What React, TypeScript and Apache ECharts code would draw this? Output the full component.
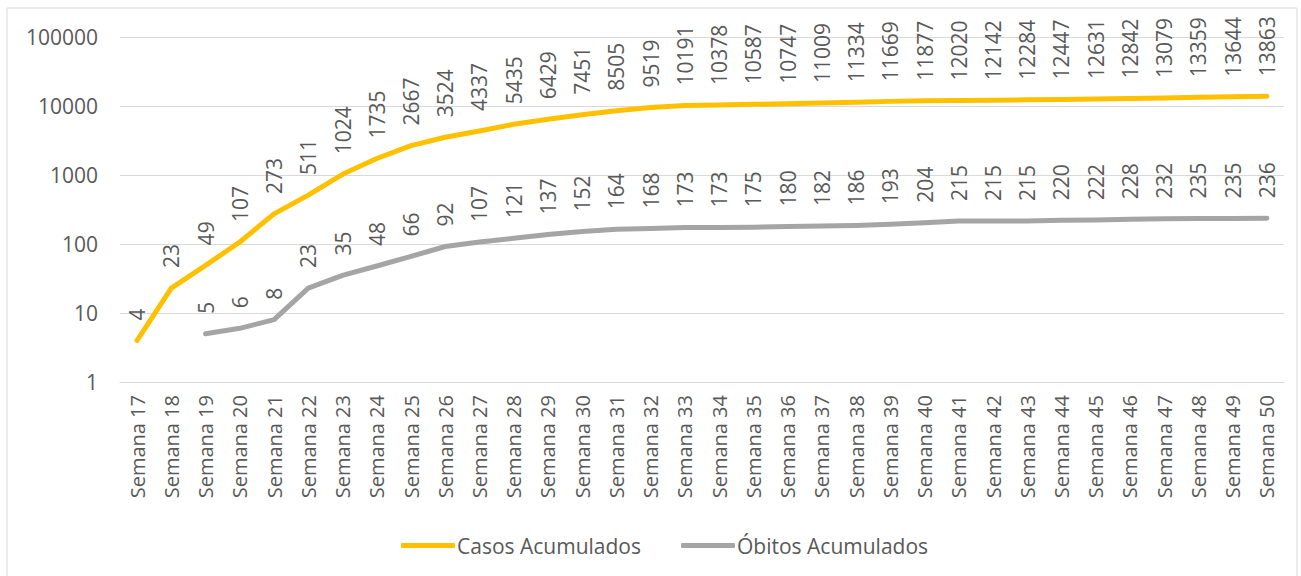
import React, { useEffect, useRef } from "react";
import * as echarts from "echarts";

const weeks: string[] = [
  "Semana 17", "Semana 18", "Semana 19", "Semana 20", "Semana 21", "Semana 22", "Semana 23",
  "Semana 24", "Semana 25", "Semana 26", "Semana 27", "Semana 28", "Semana 29", "Semana 30",
  "Semana 31", "Semana 32", "Semana 33", "Semana 34", "Semana 35", "Semana 36", "Semana 37",
  "Semana 38", "Semana 39", "Semana 40", "Semana 41", "Semana 42", "Semana 43", "Semana 44",
  "Semana 45", "Semana 46", "Semana 47", "Semana 48", "Semana 49", "Semana 50",
];

const casosAcumulados: number[] = [
  4, 23, 49, 107, 273, 511, 1024, 1735, 2667, 3524, 4337, 5435, 6429, 7451, 8505, 9519,
  10191, 10378, 10587, 10747, 11009, 11334, 11669, 11877, 12020, 12142, 12284, 12447,
  12631, 12842, 13079, 13359, 13644, 13863,
];

const obitosAcumulados: (number | null)[] = [
  null, null, 5, 6, 8, 23, 35, 48, 66, 92, 107, 121, 137, 152, 164, 168, 173, 173, 175, 180,
  182, 186, 193, 204, 215, 215, 215, 220, 222, 228, 232, 235, 235, 236,
];

const yTicks: number[] = [1, 10, 100, 1000, 10000, 100000];

const FONT = "Open Sans";
const TXT = "#595959";

export default function App() {
  const ref = useRef<HTMLDivElement>(null);
  useEffect(() => {
    document.body.style.margin = "0";
    if (!ref.current) return;
    const chart = echarts.init(ref.current, null, { renderer: "svg" });
    const label = {
      show: true,
      position: "top",
      rotate: 90,
      align: "left",
      verticalAlign: "middle",
      distance: 20,
      color: TXT,
      fontFamily: FONT,
      fontSize: 21,
    };
    chart.setOption({
      animation: false,
      textStyle: { fontFamily: FONT },
      graphic: [
        {
          type: "rect",
          shape: { x: 7, y: 8, width: 1290, height: 570 },
          style: { fill: "none", stroke: "#d9d9d9", lineWidth: 1 },
          silent: true,
        },
      ],
      grid: { left: 120, right: 17, top: 37, bottom: 194, containLabel: false },
      legend: {
        bottom: 15,
        left: 396,
        itemWidth: 54,
        itemHeight: 5,
        itemGap: 40,
        icon: "roundRect",
        textStyle: { color: TXT, fontFamily: FONT, fontSize: 21, padding: [0, 0, 0, -3] },
        data: ["Casos Acumulados", "Óbitos Acumulados"],
      },
      xAxis: {
        type: "category",
        data: weeks,
        boundaryGap: true,
        axisLine: { lineStyle: { color: "#d9d9d9", width: 1 } },
        axisTick: { show: false },
        axisLabel: {
          rotate: 90,
          color: TXT,
          fontFamily: FONT,
          fontSize: 20,
          margin: 13,
          interval: 0,
        },
      },
      yAxis: {
        type: "log",
        logBase: 10,
        min: yTicks[0],
        max: yTicks[yTicks.length - 1],
        axisLine: { show: false },
        axisTick: { show: false },
        splitLine: { lineStyle: { color: "#d9d9d9", width: 1 } },
        axisLabel: {
          color: TXT,
          fontFamily: FONT,
          fontSize: 21,
          margin: 22,
          formatter: (v: number) => String(Math.round(v)),
        },
      },
      series: [
        {
          name: "Casos Acumulados",
          type: "line",
          data: casosAcumulados,
          symbol: "circle",
          symbolSize: 0,
          showSymbol: true,
          color: "#FFC000",
          lineStyle: { color: "#FFC000", width: 5, cap: "round", join: "round" },
          labelLayout: { hideOverlap: false },
          label,
        },
        {
          name: "Óbitos Acumulados",
          type: "line",
          data: obitosAcumulados,
          symbol: "circle",
          symbolSize: 0,
          showSymbol: true,
          color: "#A5A5A5",
          lineStyle: { color: "#A5A5A5", width: 5, cap: "round", join: "round" },
          labelLayout: { hideOverlap: false },
          label,
        },
      ],
    });
    return () => chart.dispose();
  }, []);
  return <div ref={ref} style={{ width: 1301, height: 576 }} />;
}
